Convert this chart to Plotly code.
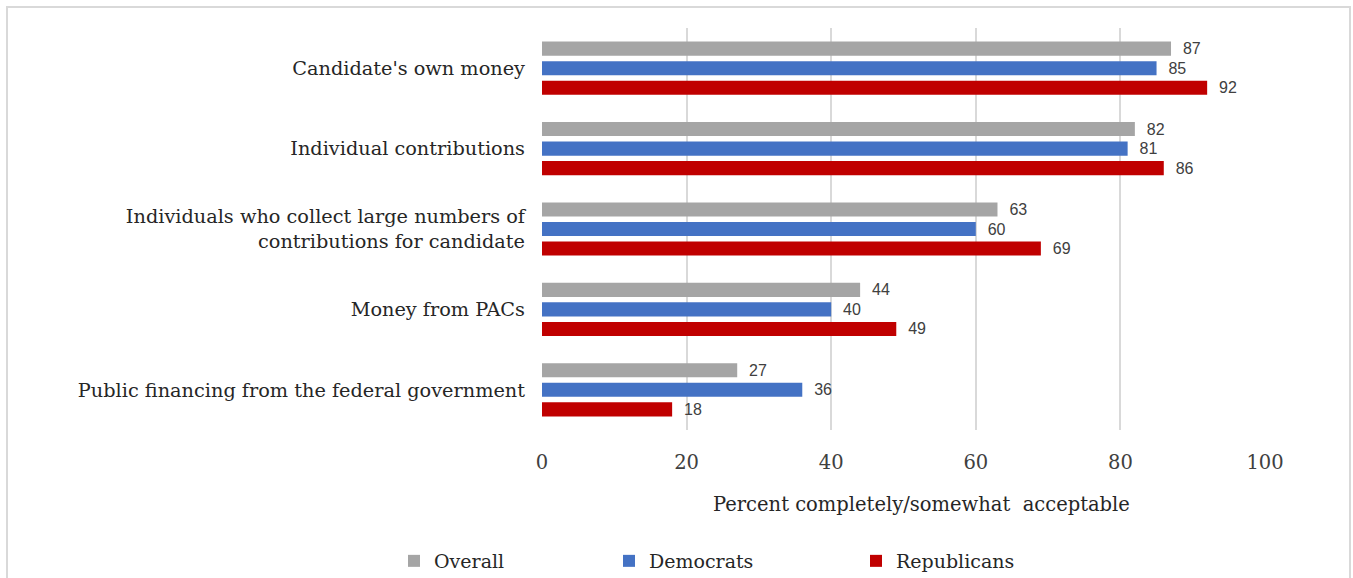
import plotly.graph_objects as go

categories = [
    "Candidate's own money",
    "Individual contributions",
    "Individuals who collect large numbers of<br>contributions for candidate",
    "Money from PACs",
    "Public financing from the federal government",
]
overall = [87, 82, 63, 44, 27]
democrats = [85, 81, 60, 40, 36]
republicans = [92, 86, 69, 49, 18]
x_ticks = [0, 20, 40, 60, 80, 100]

series = [
    ("Overall", overall, "#a5a5a5", "legend"),
    ("Democrats", democrats, "#4472c4", "legend2"),
    ("Republicans", republicans, "#c00000", "legend3"),
]

W, H = 1353, 578
ml, mr, mt, mb = 542, 88, 28, 148
pw, ph = W - ml - mr, H - mt - mb

def px_x(p):
    return (p - ml) / pw

def px_y(p):
    return (H - mb - p) / ph

serif = "DejaVu Serif"
fig = go.Figure()
for name, vals, color, lg in series:
    fig.add_trace(go.Bar(
        y=categories, x=vals, name=name, orientation="h",
        marker=dict(color=color, line=dict(width=0)),
        text=vals, texttemplate="\u00a0\u00a0%{x}", textposition="outside",
        constraintext="none",
        textfont=dict(family="Liberation Sans, Arial", size=16, color="#404040"),
        cliponaxis=False, legend=lg, hoverinfo="skip",
    ))

leg_common = dict(orientation="h", xref="container", yref="container", xanchor="left", yanchor="middle",
                  font=dict(family=serif, size=19, color="#262626"), itemwidth=30,
                  bgcolor="rgba(0,0,0,0)", borderwidth=0)

fig.update_layout(
    width=W, height=H,
    margin=dict(l=ml, r=mr, t=mt, b=mb, autoexpand=False),
    paper_bgcolor="white", plot_bgcolor="white",
    barmode="group", bargap=0.27, bargroupgap=0.28,
    showlegend=True,
    font=dict(family=serif, color="#262626"),
    xaxis=dict(range=[0, 100], tickvals=x_ticks, showgrid=True, gridcolor="#d9d9d9",
               gridwidth=2, zeroline=False, showline=False, ticks="",
               tickfont=dict(family=serif, size=19.5, color="#404040"),
               ticklabelstandoff=18),
    yaxis=dict(autorange="reversed", showgrid=False, showline=False, ticks="",
               tickfont=dict(family=serif, size=19.3, color="#262626"),
               ticklabelstandoff=16),
    legend=dict(x=394 / W, y=1 - 561 / H, **leg_common),
    legend2=dict(x=609 / W, y=1 - 561 / H, **leg_common),
    legend3=dict(x=856 / W, y=1 - 561 / H, **leg_common),
    annotations=[dict(text="Percent completely/somewhat  acceptable", xref="paper", yref="paper",
                      x=px_x(921), y=px_y(504), xanchor="center", yanchor="middle", showarrow=False,
                      font=dict(family=serif, size=19.5, color="#262626"))],
    shapes=[dict(type="rect", xref="paper", yref="paper",
                 x0=px_x(7), x1=px_x(1350), y0=px_y(7), y1=px_y(600),
                 line=dict(color="#d9d9d9", width=2), fillcolor="rgba(0,0,0,0)", layer="below")],
)

fig.write_html("out.html", config={"displayModeBar": False},
               post_script="document.body.style.margin='0';")
